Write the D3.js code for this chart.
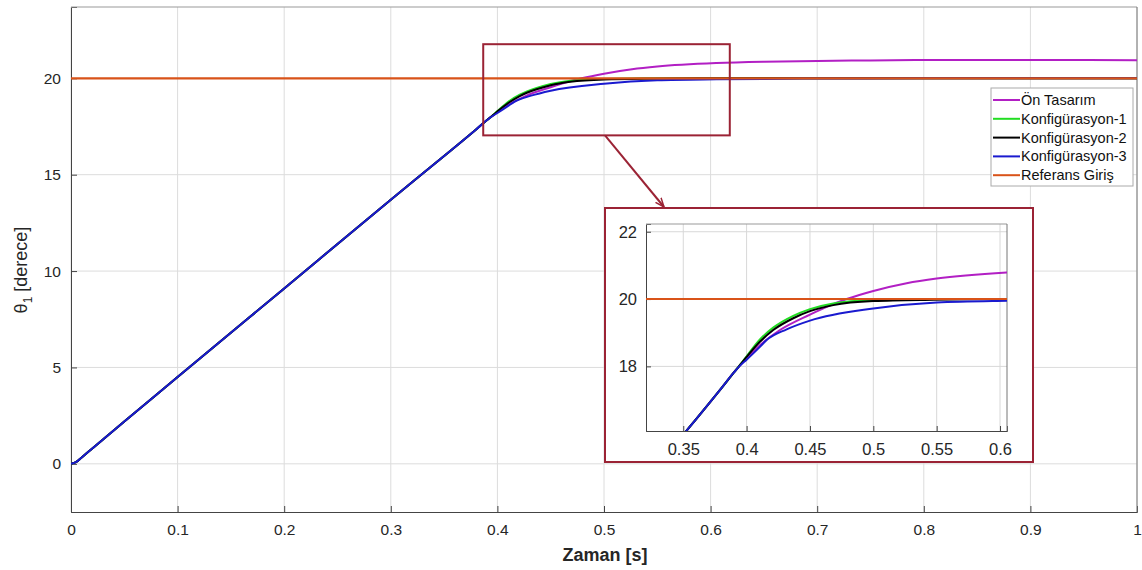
<!DOCTYPE html>
<html><head><meta charset="utf-8">
<script src="https://cdn.jsdelivr.net/npm/d3@7"></script>
<style>body{margin:0;background:#fff;} svg{font-family:"Liberation Sans",Arial,Helvetica,sans-serif;}</style>
</head><body>
<svg id="c" width="1142" height="570"></svg>
<script>
// ---- data ----
const seriesNames = ["Ön Tasarım","Konfigürasyon-1","Konfigürasyon-2","Konfigürasyon-3","Referans Giriş"];
const seriesColors = ["#B21FC4","#22DD22","#000000","#1A1ACF","#D95319"];
const rampT = [0,0.005,0.01,0.02,0.05,0.1,0.2,0.3,0.35,0.38,0.39];
const rampV = [0,0.1,0.33,0.8,2.2,4.5,9.1,13.7,15.97,17.35,17.82];
const onT = [0.395,0.4,0.4105,0.4263,0.45,0.4632,0.479,0.5,0.5263,0.55,0.6055,0.65,0.7,0.75,0.8,0.9,1.0];
const onV = [18.04,18.24,18.63,19.08,19.54,19.77,20.0,20.24,20.47,20.61,20.79,20.86,20.9,20.93,20.95,20.95,20.94];
const k1T = [0.395,0.4,0.4105,0.421,0.4368,0.45,0.4684,0.5,0.55,0.6,0.7,1.0];
const k1V = [18.05,18.3,18.8,19.15,19.5,19.7,19.87,19.97,20.0,20.0,20.0,20.0];
const k2T = [0.395,0.4,0.4105,0.421,0.4368,0.45,0.4684,0.5,0.5474,0.6,0.7,1.0];
const k2V = [18.05,18.28,18.73,19.08,19.43,19.64,19.82,19.94,19.98,20.0,20.0,20.0];
const k3T = [0.395,0.4,0.4105,0.4158,0.4316,0.45,0.5,0.55,0.6055,0.65,0.7,0.8,1.0];
const k3V = [18.03,18.2,18.58,18.78,19.1,19.36,19.72,19.9,19.95,19.97,19.99,20.0,20.0];
const refT = [0,1];
const refV = [20,20];
const xTicks = [0,0.1,0.2,0.3,0.4,0.5,0.6,0.7,0.8,0.9,1];
const yTicks = [0,5,10,15,20];
const inXTicks = [0.35,0.4,0.45,0.5,0.55,0.6];
const inYTicks = [18,20,22];
const zoomBox = {x0:0.3867, x1:0.618, y0:17.04, y1:21.77};

// ---- build ----
function pts(T,V){return T.map((t,i)=>[t,V[i]]);}
const ramp = pts(rampT,rampV);
const seriesData = [
  ramp.concat(pts(onT,onV)),
  ramp.concat(pts(k1T,k1V)),
  ramp.concat(pts(k2T,k2V)),
  ramp.concat(pts(k3T,k3V)),
  pts(refT,refV)
];
const drawOrder = [0,1,2,3,4];

const svg = d3.select("#c");
const M = {l:71,r:1137,t:7,b:512};
const x = d3.scaleLinear().domain([0,1]).range([M.l,M.r]);
const y = d3.scaleLinear().domain([-2.5,23.7]).range([M.b,M.t]);

const defs = svg.append("defs");
defs.append("clipPath").attr("id","cm").append("rect").attr("x",M.l).attr("y",M.t).attr("width",M.r-M.l).attr("height",M.b-M.t);

// grid
const g = svg.append("g");
g.selectAll(".gx").data(xTicks).join("line").attr("x1",d=>x(d)).attr("x2",d=>x(d)).attr("y1",M.t).attr("y2",M.b).attr("stroke","#dcdcdc").attr("stroke-width",1);
g.selectAll(".gy").data(yTicks).join("line").attr("y1",d=>y(d)).attr("y2",d=>y(d)).attr("x1",M.l).attr("x2",M.r).attr("stroke","#dcdcdc").attr("stroke-width",1);

// axes
const ax = svg.append("g").attr("transform",`translate(0,${M.b})`).call(d3.axisBottom(x).tickValues(xTicks).tickSize(-6).tickPadding(12).tickFormat(d=>String(d)));
const ay = svg.append("g").attr("transform",`translate(${M.l},0)`).call(d3.axisLeft(y).tickValues(yTicks).tickSize(-6).tickPadding(10).tickFormat(d=>String(d)));
[ax,ay].forEach(a=>{a.select(".domain").attr("stroke","#444");a.selectAll(".tick line").attr("stroke","#444");a.selectAll("text").attr("font-size",15.5).attr("fill","#262626").attr("font-family","Liberation Sans, Arial, sans-serif");});
svg.append("line").attr("x1",M.l).attr("x2",M.r).attr("y1",M.t).attr("y2",M.t).attr("stroke","#999");
svg.append("line").attr("x1",M.r).attr("x2",M.r).attr("y1",M.t).attr("y2",M.b).attr("stroke","#777");

// lines main
const line = d3.line().x(d=>x(d[0])).y(d=>y(d[1])).curve(d3.curveMonotoneX);
const lg = svg.append("g").attr("clip-path","url(#cm)");
drawOrder.forEach(i=>{
  lg.append("path").datum(seriesData[i]).attr("d",line).attr("fill","none").attr("stroke",seriesColors[i]).attr("stroke-width",i===4?2.2:2);
});

// zoom rect
const zc = "#9B2335";
svg.append("rect").attr("x",x(zoomBox.x0)).attr("y",y(zoomBox.y1)).attr("width",x(zoomBox.x1)-x(zoomBox.x0)).attr("height",y(zoomBox.y0)-y(zoomBox.y1)).attr("fill","none").attr("stroke",zc).attr("stroke-width",2);

// labels
svg.append("text").attr("x",605).attr("y",561).attr("text-anchor","middle").attr("font-size",18).attr("font-weight","bold").attr("fill","#262626").text("Zaman [s]");
const yl = svg.append("text").attr("transform","translate(27,270) rotate(-90)").attr("text-anchor","middle").attr("font-size",18).attr("fill","#262626");
yl.append("tspan").text("θ");
yl.append("tspan").attr("font-size",12).attr("dy",5).text("1");
yl.append("tspan").attr("dy",-5).text(" [derece]");

// inset
const IB = {x0:605,y0:208,x1:1033,y1:462};
const IM = {l:646,r:1007,t:224,b:431};
svg.append("rect").attr("x",IB.x0).attr("y",IB.y0).attr("width",IB.x1-IB.x0).attr("height",IB.y1-IB.y0).attr("fill","#fff").attr("stroke",zc).attr("stroke-width",2);
const xi = d3.scaleLinear().domain([0.3206,0.6055]).range([IM.l,IM.r]);
const yi = d3.scaleLinear().domain([16.08,22.23]).range([IM.b,IM.t]);
defs.append("clipPath").attr("id","ci").append("rect").attr("x",IM.l).attr("y",IM.t).attr("width",IM.r-IM.l).attr("height",IM.b-IM.t);
const ig = svg.append("g");
ig.selectAll(".ix").data(inXTicks).join("line").attr("x1",d=>xi(d)).attr("x2",d=>xi(d)).attr("y1",IM.t).attr("y2",IM.b).attr("stroke","#d8d8d8");
ig.selectAll(".iy").data(inYTicks).join("line").attr("y1",d=>yi(d)).attr("y2",d=>yi(d)).attr("x1",IM.l).attr("x2",IM.r).attr("stroke","#d8d8d8");
const iax = svg.append("g").attr("transform",`translate(0,${IM.b})`).call(d3.axisBottom(xi).tickValues(inXTicks).tickSize(-5).tickPadding(12).tickFormat(d=>String(d)));
const iay = svg.append("g").attr("transform",`translate(${IM.l},0)`).call(d3.axisLeft(yi).tickValues(inYTicks).tickSize(-5).tickPadding(9).tickFormat(d=>String(d)));
[iax,iay].forEach(a=>{a.select(".domain").attr("stroke","#444");a.selectAll(".tick line").attr("stroke","#444");a.selectAll("text").attr("font-size",16.5).attr("fill","#262626").attr("font-family","Liberation Sans, Arial, sans-serif");});
svg.append("line").attr("x1",IM.l).attr("x2",IM.r).attr("y1",IM.t).attr("y2",IM.t).attr("stroke","#999");
svg.append("line").attr("x1",IM.r).attr("x2",IM.r).attr("y1",IM.t).attr("y2",IM.b).attr("stroke","#777");
const iline = d3.line().x(d=>xi(d[0])).y(d=>yi(d[1])).curve(d3.curveMonotoneX);
const ilg = svg.append("g").attr("clip-path","url(#ci)");
drawOrder.forEach(i=>{
  ilg.append("path").datum(seriesData[i]).attr("d",iline).attr("fill","none").attr("stroke",seriesColors[i]).attr("stroke-width",2);
});

// arrow
defs.append("marker").attr("id","ah").attr("viewBox","0 0 10 10").attr("refX",10).attr("refY",5).attr("markerWidth",9).attr("markerHeight",9).attr("orient","auto-start-reverse").attr("markerUnits","userSpaceOnUse")
  .append("path").attr("d","M0,1 L10,5 L0,9").attr("fill","none").attr("stroke",zc).attr("stroke-width",1.6);
svg.append("line").attr("x1",605).attr("y1",y(zoomBox.y0)).attr("x2",664).attr("y2",IB.y0-1).attr("stroke",zc).attr("stroke-width",2).attr("marker-end","url(#ah)");

// legend
const L = {x:991,y:88,w:142,h:98};
svg.append("rect").attr("x",L.x).attr("y",L.y).attr("width",L.w).attr("height",L.h).attr("fill","#fff").attr("stroke","#aaa");
seriesNames.forEach((n,i)=>{
  const yy = 100 + i*18.8;
  svg.append("line").attr("x1",993).attr("x2",1020).attr("y1",yy).attr("y2",yy).attr("stroke",seriesColors[i]).attr("stroke-width",2);
  svg.append("text").attr("x",1021).attr("y",yy+5).attr("font-size",14.5).attr("fill","#111").text(n);
});
</script>
</body></html>
